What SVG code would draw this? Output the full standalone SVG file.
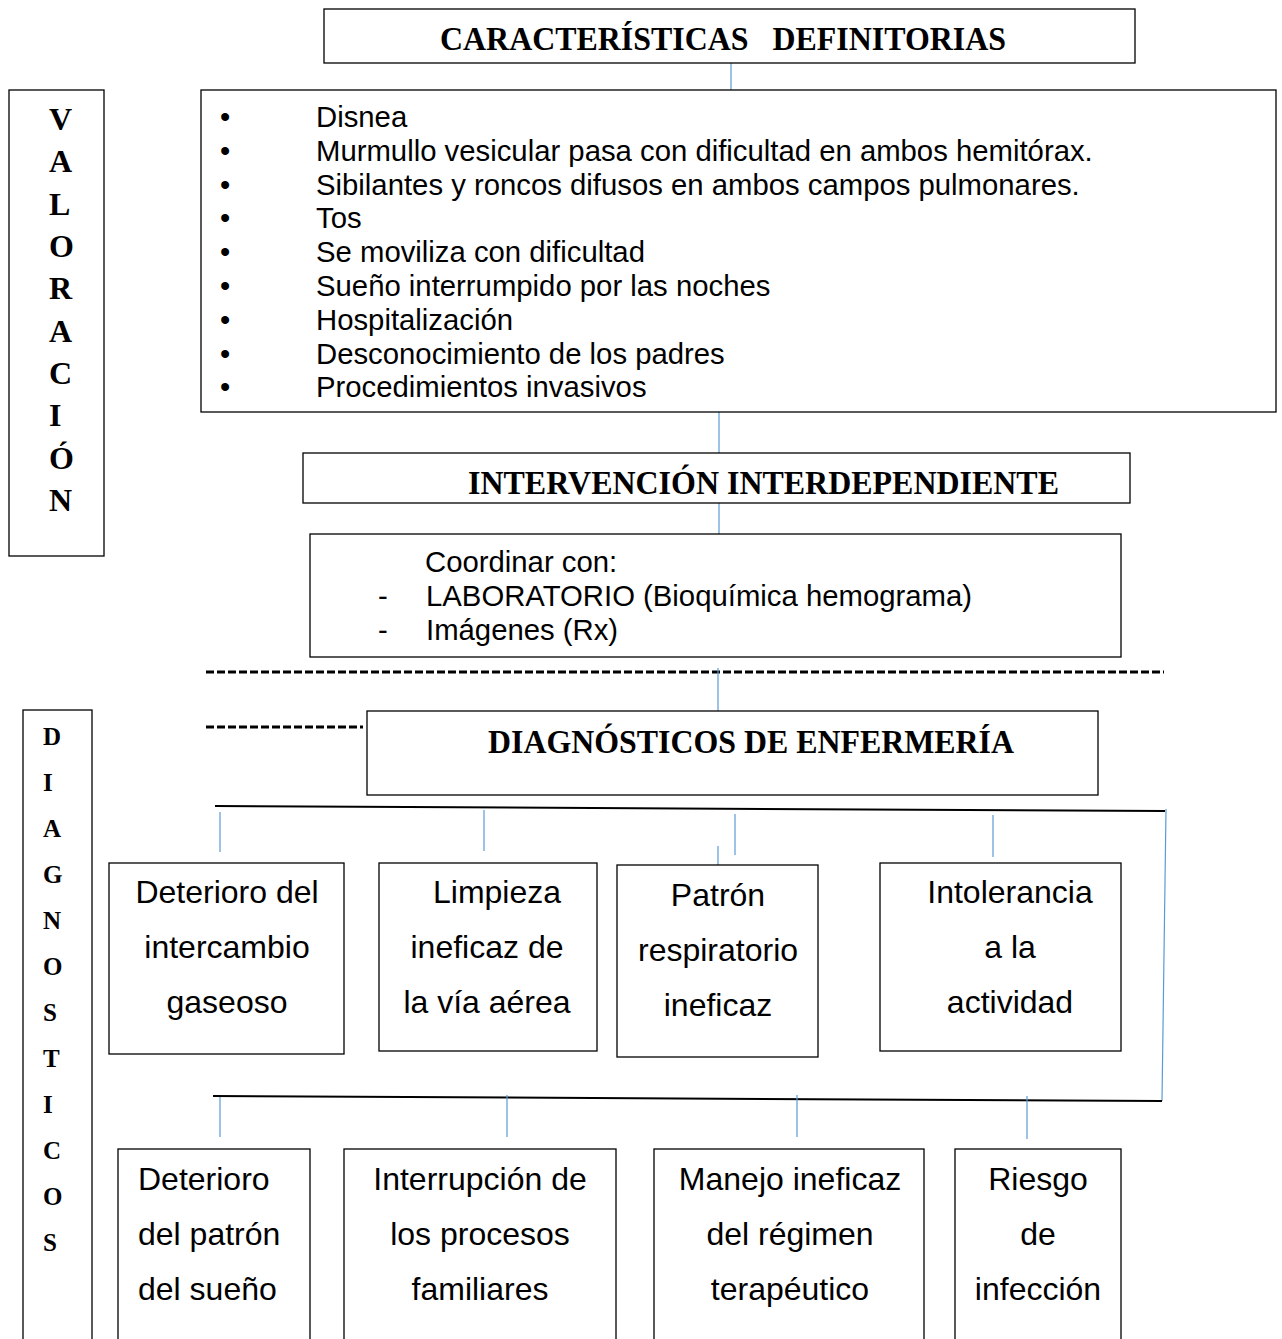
<svg xmlns="http://www.w3.org/2000/svg" width="1282" height="1339" viewBox="0 0 1282 1339">
<style>
.box{fill:#fff;stroke:#000;stroke-width:1.3}
.hd{font-family:"Liberation Serif","Times New Roman",serif;font-weight:bold;font-size:34px;fill:#000}
.vl{font-family:"Liberation Serif","Times New Roman",serif;font-weight:bold;font-size:32px;fill:#000}
.vs{font-family:"Liberation Serif","Times New Roman",serif;font-weight:bold;font-size:25px;fill:#000}
.tx{font-family:"Liberation Sans",Arial,sans-serif;font-size:29.3px;fill:#000}
.dx{font-family:"Liberation Sans",Arial,sans-serif;font-size:32px;fill:#000}
.c{stroke:#5b9bd5;stroke-width:1.2;fill:none}
.k{stroke:#000;stroke-width:2;fill:none}
.d{stroke:#000;stroke-width:3;stroke-dasharray:8 3;fill:none}
</style>
<rect width="1282" height="1339" fill="#fff"/>
<g id="connectors">
<line class="c" x1="731" y1="63" x2="731" y2="90"/>
<line class="c" x1="719" y1="412" x2="719" y2="453"/>
<line class="c" x1="719" y1="503" x2="719" y2="534"/>
<line class="d" x1="206" y1="672" x2="1164" y2="672"/>
<line class="d" x1="206" y1="727" x2="363" y2="727"/>
<line class="c" x1="718" y1="668" x2="718" y2="711"/>
<line class="k" x1="215" y1="806" x2="1165" y2="811"/>
<line class="c" x1="1166" y1="809" x2="1162" y2="1101"/>
<line class="k" x1="213" y1="1096" x2="1162" y2="1101"/>
<line class="c" x1="220" y1="812" x2="220" y2="852"/>
<line class="c" x1="484" y1="810" x2="484" y2="851"/>
<line class="c" x1="735" y1="814" x2="735" y2="855"/>
<line class="c" x1="718" y1="846" x2="718" y2="880"/>
<line class="c" x1="993" y1="815" x2="993" y2="857"/>
<line class="c" x1="220" y1="1097" x2="220" y2="1137"/>
<line class="c" x1="507" y1="1095" x2="507" y2="1137"/>
<line class="c" x1="797" y1="1095" x2="797" y2="1137"/>
<line class="c" x1="1027" y1="1096" x2="1027" y2="1139"/>
</g>
<g id="caracteristicas">
<rect class="box" x="324" y="9" width="811" height="54"/>
<text class="hd" x="440" y="50" textLength="566" lengthAdjust="spacingAndGlyphs" xml:space="preserve">CARACTERÍSTICAS   DEFINITORIAS</text>
</g>
<g id="valoracion">
<rect class="box" x="9" y="90" width="95" height="466"/>
<text class="vl" x="49" y="130">V</text>
<text class="vl" x="49" y="172">A</text>
<text class="vl" x="49" y="215">L</text>
<text class="vl" x="49" y="257">O</text>
<text class="vl" x="49" y="299">R</text>
<text class="vl" x="49" y="342">A</text>
<text class="vl" x="49" y="384">C</text>
<text class="vl" x="49" y="426">I</text>
<text class="vl" x="49" y="469">Ó</text>
<text class="vl" x="49" y="511">N</text>
</g>
<g id="lista">
<rect class="box" x="201" y="90" width="1075" height="322"/>
<g class="tx">
<text x="220" y="127">•</text><text x="316" y="127">Disnea</text>
<text x="220" y="161">•</text><text x="316" y="161">Murmullo vesicular pasa con dificultad en ambos hemitórax.</text>
<text x="220" y="195">•</text><text x="316" y="195">Sibilantes y roncos difusos en ambos campos pulmonares.</text>
<text x="220" y="228">•</text><text x="316" y="228">Tos</text>
<text x="220" y="262">•</text><text x="316" y="262">Se moviliza con dificultad</text>
<text x="220" y="296">•</text><text x="316" y="296">Sueño interrumpido por las noches</text>
<text x="220" y="330">•</text><text x="316" y="330">Hospitalización</text>
<text x="220" y="364">•</text><text x="316" y="364">Desconocimiento de los padres</text>
<text x="220" y="397">•</text><text x="316" y="397">Procedimientos invasivos</text>
</g>
</g>
<g id="intervencion">
<rect class="box" x="303" y="453" width="827" height="50"/>
<text class="hd" x="468" y="494" textLength="591" lengthAdjust="spacingAndGlyphs">INTERVENCIÓN INTERDEPENDIENTE</text>
</g>
<g id="coordinar">
<rect class="box" x="310" y="534" width="811" height="123"/>
<g class="tx">
<text x="425" y="572">Coordinar con:</text>
<text x="378" y="606">-</text><text x="426" y="606">LABORATORIO (Bioquímica hemograma)</text>
<text x="378" y="640">-</text><text x="426" y="640">Imágenes (Rx)</text>
</g>
</g>
<g id="diagnosticos-titulo">
<rect class="box" x="367" y="711" width="731" height="84"/>
<text class="hd" x="488" y="753" textLength="526" lengthAdjust="spacingAndGlyphs">DIAGNÓSTICOS DE ENFERMERÍA</text>
</g>
<g id="diagnosticos-lateral">
<rect class="box" x="23" y="710" width="69" height="640"/>
<text class="vs" x="43" y="745">D</text>
<text class="vs" x="43" y="791">I</text>
<text class="vs" x="43" y="837">A</text>
<text class="vs" x="43" y="883">G</text>
<text class="vs" x="43" y="929">N</text>
<text class="vs" x="43" y="975">O</text>
<text class="vs" x="43" y="1021">S</text>
<text class="vs" x="43" y="1067">T</text>
<text class="vs" x="43" y="1113">I</text>
<text class="vs" x="43" y="1159">C</text>
<text class="vs" x="43" y="1205">O</text>
<text class="vs" x="43" y="1251">S</text>
</g>
<g id="d1">
<rect class="box" x="109" y="863" width="235" height="191"/>
<g class="dx" text-anchor="middle"><text x="227" y="903">Deterioro del</text><text x="227" y="958">intercambio</text><text x="227" y="1013">gaseoso</text></g>
</g>
<g id="d2">
<rect class="box" x="379" y="863" width="218" height="188"/>
<g class="dx" text-anchor="middle"><text x="497" y="903">Limpieza</text><text x="487" y="958">ineficaz de</text><text x="487" y="1013">la vía aérea</text></g>
</g>
<g id="d3">
<rect class="box" x="617" y="865" width="201" height="192"/>
<g class="dx" text-anchor="middle"><text x="718" y="906">Patrón</text><text x="718" y="961">respiratorio</text><text x="718" y="1016">ineficaz</text></g>
</g>
<g id="d4">
<rect class="box" x="880" y="863" width="241" height="188"/>
<g class="dx" text-anchor="middle"><text x="1010" y="903">Intolerancia</text><text x="1010" y="958">a la</text><text x="1010" y="1013">actividad</text></g>
</g>
<g id="d5">
<rect class="box" x="118" y="1149" width="192" height="200"/>
<g class="dx"><text x="138" y="1190">Deterioro</text><text x="138" y="1245">del patrón</text><text x="138" y="1300">del sueño</text></g>
</g>
<g id="d6">
<rect class="box" x="344" y="1149" width="272" height="200"/>
<g class="dx" text-anchor="middle"><text x="480" y="1190">Interrupción de</text><text x="480" y="1245">los procesos</text><text x="480" y="1300">familiares</text></g>
</g>
<g id="d7">
<rect class="box" x="654" y="1149" width="270" height="200"/>
<g class="dx" text-anchor="middle"><text x="790" y="1190">Manejo ineficaz</text><text x="790" y="1245">del régimen</text><text x="790" y="1300">terapéutico</text></g>
</g>
<g id="d8">
<rect class="box" x="955" y="1149" width="166" height="200"/>
<g class="dx" text-anchor="middle"><text x="1038" y="1190">Riesgo</text><text x="1038" y="1245">de</text><text x="1038" y="1300">infección</text></g>
</g>
</svg>
